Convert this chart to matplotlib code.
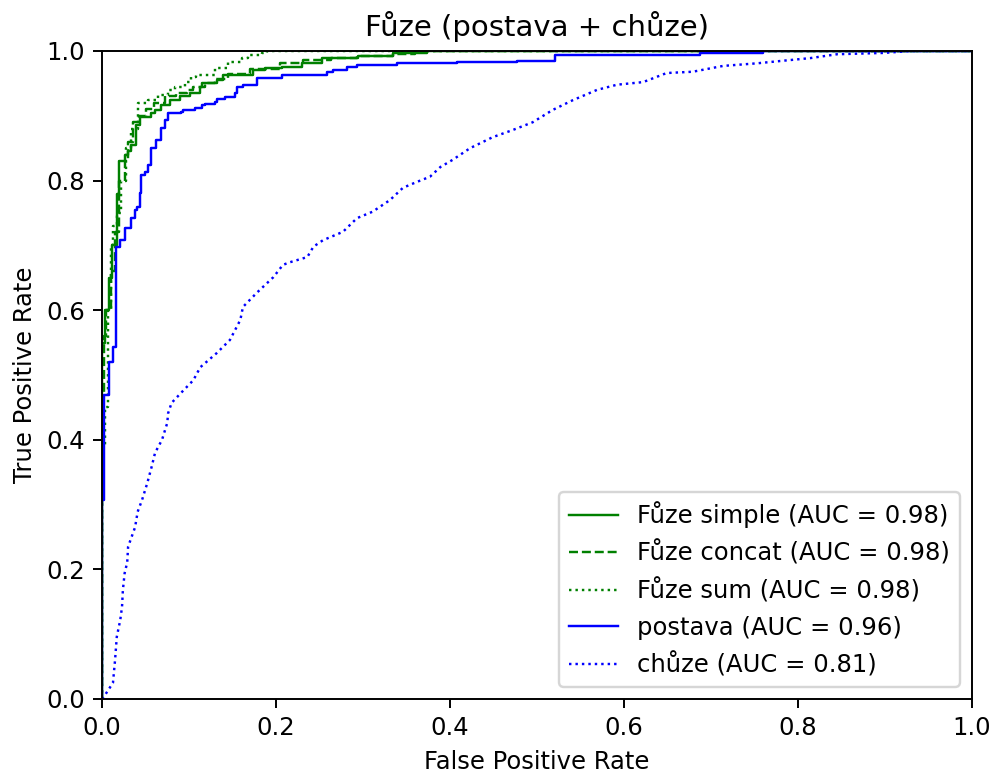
import matplotlib
matplotlib.use("Agg")
import matplotlib.pyplot as plt

# ROC corner points (fpr, tpr) for each model
simple_fpr = [0, 0, 0.003, 0.008, 0.011, 0.017, 0.020, 0.027, 0.030, 0.033, 0.039, 0.044, 0.056, 0.061,
              0.068, 0.078, 0.090, 0.101, 0.113, 0.115, 0.132, 0.139, 0.174, 0.187, 0.207, 0.230, 0.253,
              0.294, 0.334, 0.374, 1.0]
simple_tpr = [0, 0.55, 0.60, 0.65, 0.70, 0.78, 0.83, 0.84, 0.845, 0.855, 0.886, 0.898, 0.904, 0.909,
              0.917, 0.924, 0.930, 0.935, 0.944, 0.951, 0.955, 0.963, 0.971, 0.974, 0.975, 0.981, 0.989,
              0.992, 0.997, 1.0, 1.0]

concat_fpr = [0, 0, 0.002, 0.005, 0.010, 0.015, 0.020, 0.026, 0.030, 0.036, 0.042, 0.050, 0.060, 0.072,
              0.085, 0.098, 0.105, 0.118, 0.130, 0.145, 0.170, 0.205, 0.231, 0.263, 0.293, 0.334, 0.360, 1.0]
concat_tpr = [0, 0.47, 0.56, 0.60, 0.66, 0.72, 0.80, 0.83, 0.86, 0.89, 0.90, 0.91, 0.92, 0.93,
              0.935, 0.94, 0.945, 0.95, 0.957, 0.965, 0.972, 0.981, 0.986, 0.989, 0.992, 0.995, 1.0, 1.0]

sum_fpr = [0, 0, 0.004, 0.007, 0.010, 0.013, 0.017, 0.022, 0.028, 0.033, 0.041, 0.053, 0.064, 0.076,
           0.084, 0.095, 0.102, 0.108, 0.130, 0.145, 0.161, 0.168, 0.184, 0.190, 1.0]
sum_tpr = [0, 0.39, 0.45, 0.60, 0.70, 0.73, 0.75, 0.80, 0.85, 0.88, 0.92, 0.924, 0.932, 0.940,
           0.944, 0.952, 0.960, 0.963, 0.974, 0.983, 0.989, 0.994, 0.997, 1.0, 1.0]

postava_fpr = [0, 0, 0.0023, 0.008, 0.0126, 0.016, 0.0207, 0.0264, 0.0333, 0.038, 0.040, 0.0437, 0.0448,
               0.0494, 0.0529, 0.0563, 0.062, 0.0678, 0.0724, 0.0759, 0.0908, 0.0931, 0.107, 0.115, 0.118,
               0.130, 0.132, 0.141, 0.153, 0.155, 0.162, 0.178, 0.207, 0.259, 0.266, 0.282, 0.293, 0.339,
               0.408, 0.477, 0.521, 0.687, 0.760, 1.0]
postava_tpr = [0, 0.307, 0.469, 0.520, 0.543, 0.698, 0.708, 0.727, 0.742, 0.755, 0.759, 0.781, 0.809,
               0.813, 0.824, 0.850, 0.863, 0.881, 0.894, 0.904, 0.906, 0.909, 0.912, 0.916, 0.918,
               0.922, 0.926, 0.929, 0.935, 0.944, 0.948, 0.958, 0.963, 0.968, 0.971, 0.975, 0.978, 0.981,
               0.983, 0.985, 0.994, 0.997, 1.0, 1.0]

chuze_fpr = [0, 0.0034, 0.0126, 0.015, 0.017, 0.021, 0.023, 0.024, 0.026, 0.029, 0.030, 0.034, 0.038, 0.041,
             0.046, 0.052, 0.057, 0.061, 0.069, 0.075, 0.076, 0.080, 0.092, 0.105, 0.113, 0.132, 0.147,
             0.159, 0.162, 0.178, 0.197, 0.208, 0.216, 0.236, 0.243, 0.254, 0.277, 0.293, 0.311, 0.331,
             0.346, 0.362, 0.377, 0.389, 0.403, 0.423, 0.449, 0.472, 0.495, 0.518, 0.541, 0.569, 0.592,
             0.622, 0.649, 0.679, 0.714, 0.753, 0.783, 0.814, 0.845, 0.898, 0.930, 1.0]
chuze_tpr = [0, 0.006, 0.025, 0.060, 0.096, 0.122, 0.142, 0.168, 0.194, 0.211, 0.235, 0.250, 0.265, 0.289,
             0.307, 0.333, 0.358, 0.380, 0.400, 0.426, 0.441, 0.457, 0.474, 0.492, 0.512, 0.534, 0.554,
             0.585, 0.605, 0.627, 0.651, 0.670, 0.674, 0.682, 0.698, 0.708, 0.721, 0.742, 0.752, 0.770,
             0.789, 0.798, 0.806, 0.821, 0.832, 0.850, 0.867, 0.878, 0.890, 0.909, 0.924, 0.940, 0.948,
             0.952, 0.966, 0.968, 0.977, 0.981, 0.985, 0.989, 0.995, 0.997, 1.0, 1.0]

labels = ["Fůze simple (AUC = 0.98)", "Fůze concat (AUC = 0.98)", "Fůze sum (AUC = 0.98)",
          "postava (AUC = 0.96)", "chůze (AUC = 0.81)"]

fig = plt.figure(figsize=(997 / 175, 774 / 175), dpi=175)
ax = fig.add_axes([102 / 997, 1 - 699 / 774, 870 / 997, 648 / 774])

lw = 1.0
ax.plot(simple_fpr, simple_tpr, color="g", linestyle="-", lw=lw, drawstyle="steps-post", label=labels[0])
ax.plot(concat_fpr, concat_tpr, color="g", linestyle="--", lw=lw, drawstyle="steps-post", label=labels[1])
ax.plot(sum_fpr, sum_tpr, color="g", linestyle=":", lw=lw, drawstyle="steps-post", label=labels[2])
ax.plot(postava_fpr, postava_tpr, color="b", linestyle="-", lw=lw, drawstyle="steps-post", label=labels[3])
ax.plot(chuze_fpr, chuze_tpr, color="b", linestyle=":", lw=lw, label=labels[4])

ax.set_xlim(0, 1)
ax.set_ylim(0, 1)
ax.set_xlabel("False Positive Rate")
ax.set_ylabel("True Positive Rate")
ax.set_title("Fůze (postava + chůze)")
ax.legend(loc="lower right")

fig.savefig("out.png", dpi=175)
